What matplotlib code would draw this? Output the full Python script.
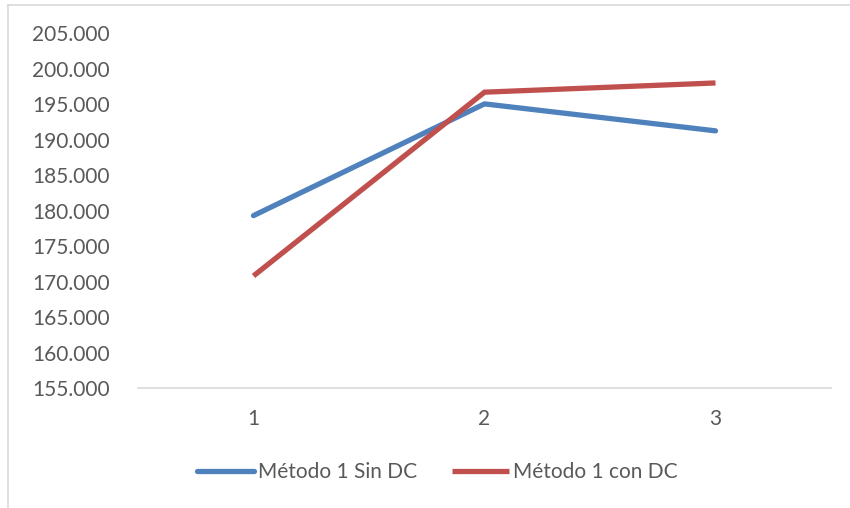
import matplotlib
matplotlib.use('Agg')
import matplotlib.pyplot as plt
from matplotlib.lines import Line2D
from matplotlib.ticker import FuncFormatter, MultipleLocator

categories = [1, 2, 3]
sin_dc = [179300, 195050, 191250]
con_dc = [170800, 196700, 198000]
labels = ['Método 1 Sin DC', 'Método 1 con DC']

plt.rcParams['font.family'] = ['Lato', 'DejaVu Sans']
text_col = '#595959'
grid_col = '#D9D9D9'

W, H = 850, 508
fig = plt.figure(figsize=(W / 100, H / 100), dpi=100)
fig.patch.set_facecolor('white')

# chart area border (only the left and top edges fall inside the image)
fig.add_artist(Line2D([8 / W, 8 / W], [0, 1 - 5 / H], color=grid_col, lw=1.2))
fig.add_artist(Line2D([8 / W, 1], [1 - 5 / H, 1 - 5 / H], color=grid_col, lw=1.2))

left, right = 138 / W, 831 / W
bottom, top = (H - 388) / H, (H - 33.3) / H
ax = fig.add_axes([left, bottom, right - left, top - bottom])

ax.plot(categories, sin_dc, color='#4F81BD', lw=3.8, solid_capstyle='round',
        solid_joinstyle='round', label=labels[0])
ax.plot(categories, con_dc, color='#C0504D', lw=3.8, solid_capstyle='butt',
        solid_joinstyle='miter', label=labels[1])

ax.set_xlim(0.5, 3.5)
ax.set_ylim(155000, 205000)
ax.yaxis.set_major_locator(MultipleLocator(5000))
ax.yaxis.set_major_formatter(FuncFormatter(lambda v, p: f"{v:,.0f}".replace(",", ".")))
ax.set_xticks(categories)

for s in ['top', 'right', 'left']:
    ax.spines[s].set_visible(False)
ax.spines['bottom'].set_color(grid_col)
ax.spines['bottom'].set_linewidth(1.2)

ax.tick_params(axis='y', length=0, pad=20.5, labelsize=15, labelcolor=text_col)
ax.tick_params(axis='x', length=0, pad=15, labelsize=15, labelcolor=text_col)

leg = fig.legend(loc='center', bbox_to_anchor=(437.5 / W, (H - 472) / H), ncol=2,
                 frameon=False, fontsize=15, handlelength=2.7, handletextpad=0.2,
                 columnspacing=1.7, borderpad=0)
for t in leg.get_texts():
    t.set_color(text_col)

fig.savefig('out.png', dpi=100, facecolor='white')
